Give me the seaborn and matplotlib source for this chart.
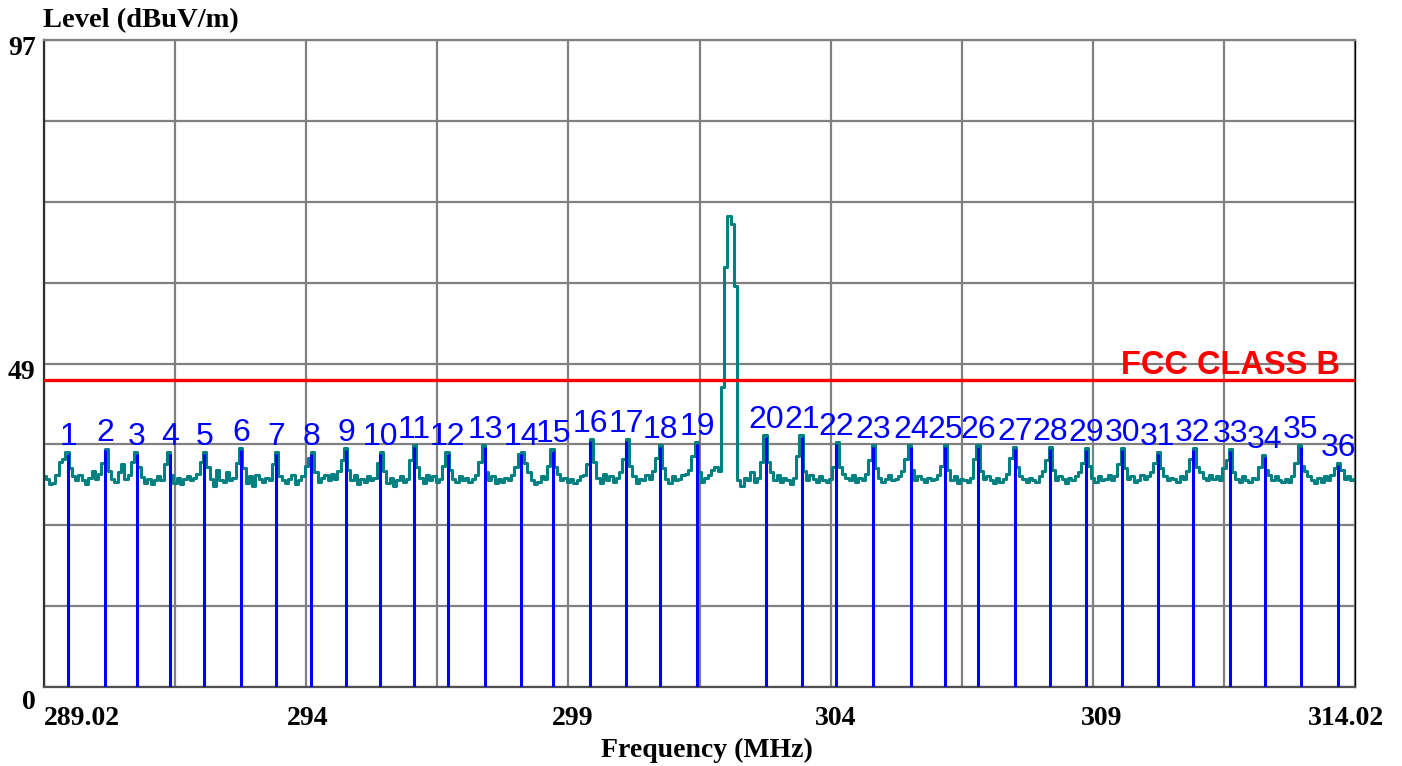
import numpy as np
import pandas as pd
import matplotlib
matplotlib.use("Agg")
import matplotlib.pyplot as plt
import seaborn as sns
from matplotlib import font_manager

# ---------------- data ----------------
F_MIN, F_MAX = 289.02, 314.02
Y_MAX = 97
limit_level = 46.0
limit_label = "FCC CLASS B"

x_tick_labels = ["289.02", "294", "299", "304", "309", "314.02"]
y_tick_labels = ["0", "49", "97"]
y_tick_values = [0, 48.5, 97]

marker_ids = list(range(1, 37))
marker_freqs = [289.48, 290.18, 290.79, 291.42, 292.08, 292.78, 293.44, 294.12, 294.78, 295.43,
                296.08, 296.72, 297.43, 298.12, 298.73, 299.43, 300.12, 300.77, 301.47, 302.79,
                303.47, 304.12, 304.83, 305.55, 306.20, 306.83, 307.54, 308.20, 308.89, 309.58,
                310.26, 310.93, 311.64, 312.30, 312.99, 313.70]
marker_levels = [34.9, 35.5, 34.9, 34.9, 34.9, 35.5, 34.9, 34.9, 35.5, 34.9,
                 36.0, 34.9, 36.0, 34.9, 35.4, 36.9, 36.9, 36.0, 36.5, 37.5,
                 37.5, 36.5, 36.0, 36.0, 36.0, 36.0, 35.7, 35.7, 35.5, 35.5,
                 34.9, 35.5, 35.4, 34.5, 36.0, 33.3]

# measured spectrum (dBuV/m), evenly spaced from 289.02 to 314.02 MHz
trace_levels = [
    31.6, 31.2, 30.4, 30.6, 31.8, 33.8, 34.2,
    35.3, 32.8, 31.6, 31.0, 31.8, 31.0, 30.5, 31.4, 32.4, 31.2, 32.0, 33.6,
    35.7, 32.4, 31.2, 30.7, 32.2, 33.4, 31.2, 31.8, 33.8,
    35.3, 33.0, 31.5, 30.6, 31.2, 30.4, 31.0, 31.6, 31.1, 33.4,
    35.3, 31.8, 30.6, 31.3, 30.5, 31.2, 31.6, 31.0, 31.4, 32.0, 33.8,
    35.3, 33.0, 31.2, 30.2, 32.6, 31.0, 30.8, 32.2, 31.0, 31.4, 33.6,
    35.9, 32.8, 30.6, 31.6, 30.2, 31.8, 31.2, 30.8, 31.4, 31.0, 33.4,
    35.3, 31.6, 31.0, 30.6, 31.2, 31.8, 30.4, 31.0, 31.6, 33.2, 34.4,
    35.3, 32.2, 30.8, 31.4, 31.8, 31.0, 32.0, 31.2, 32.4, 34.0,
    35.9, 32.6, 31.0, 31.8, 30.4, 31.2, 30.8, 31.6, 31.0, 31.4, 33.6,
    35.3, 32.4, 30.6, 31.4, 30.2, 31.0, 31.6, 30.8, 31.2, 34.0,
    36.3, 33.0, 31.4, 30.6, 31.8, 31.0, 31.6, 30.8, 31.2, 33.2,
    35.3, 32.6, 31.2, 30.8, 31.6, 31.0, 31.4, 30.8, 31.2, 31.8, 33.8,
    36.3, 32.2, 31.0, 31.6, 30.6, 31.2, 30.8, 31.4, 31.0, 31.8, 33.0, 35.0,
    35.3, 33.6, 32.2, 31.0, 30.4, 30.8, 31.6, 31.2, 33.2,
    35.7, 33.0, 32.0, 31.0, 31.4, 30.8, 31.2, 30.6, 31.0, 31.6, 31.8, 33.4,
    37.2, 33.8, 31.4, 30.6, 32.0, 31.0, 31.6, 30.8, 31.4, 32.2, 34.2,
    37.2, 33.2, 31.6, 30.6, 31.2, 31.0, 31.8, 31.2, 32.4, 34.4,
    36.3, 32.8, 31.2, 30.6, 31.6, 31.0, 31.2, 31.8, 32.0, 32.6, 34.6,
    36.8, 32.2, 30.8, 31.4, 31.8, 32.6, 33.0, 32.4,
    45.0, 63.0, 70.6, 69.4, 60.1,
    31.0, 30.2, 31.4, 31.0, 32.2, 30.8, 31.4, 33.8,
    37.8, 33.8, 32.2, 31.0, 31.8, 30.8, 31.4, 31.0, 30.4, 31.4, 34.6,
    37.8, 32.4, 31.0, 31.8, 31.2, 30.8, 31.6, 31.0, 30.8, 31.2, 33.0,
    36.8, 33.0, 32.0, 31.4, 31.0, 31.8, 30.8, 31.4, 31.0, 32.0, 34.0,
    36.3, 32.8, 31.4, 30.8, 31.2, 31.8, 31.0, 31.2, 31.6, 32.4, 34.2,
    36.3, 32.6, 31.0, 31.6, 31.2, 30.8, 31.4, 31.0, 31.2, 31.8, 33.2,
    36.3, 32.6, 31.0, 31.6, 30.6, 31.2, 31.0, 30.8, 31.4, 34.2,
    36.3, 32.4, 31.2, 31.6, 31.0, 30.6, 31.4, 30.8, 31.2, 32.0, 34.4,
    36.0, 33.0, 31.6, 31.2, 30.8, 31.4, 31.0, 30.8, 31.6, 32.4, 34.0,
    36.0, 32.6, 31.0, 31.6, 31.2, 30.6, 31.4, 31.0, 31.6, 32.2, 33.6,
    35.8, 33.2, 31.4, 30.8, 31.6, 31.0, 31.2, 31.8, 31.0, 31.6, 33.4,
    35.8, 32.8, 31.2, 31.6, 30.8, 31.0, 31.8, 31.2, 31.6, 32.2, 33.6,
    35.3, 32.8, 31.6, 31.0, 31.4, 31.2, 30.8, 31.6, 31.2, 32.4, 34.2,
    35.8, 33.0, 32.2, 31.4, 31.0, 31.8, 31.2, 31.6, 31.0, 32.8, 34.0,
    35.7, 32.2, 31.2, 30.8, 31.6, 31.0, 30.8, 31.4, 31.2, 33.0,
    34.8, 32.6, 31.8, 31.0, 31.6, 31.0, 30.8, 31.2, 30.8, 31.6, 33.6,
    36.3, 33.2, 32.4, 31.6, 31.0, 30.6, 31.4, 30.8, 31.6, 31.0, 31.8, 32.8,
    33.6, 32.6, 31.2, 31.6, 31.0, 31.2,
]
trace_freqs = np.linspace(F_MIN, F_MAX, len(trace_levels))

# ---------------- style ----------------
sns.set_theme(style="white")
available = {f.name for f in font_manager.fontManager.ttflist}
narrow = "Liberation Sans Narrow" in available
SERIF = ["Liberation Serif", "DejaVu Serif"]
SANS = ["Liberation Sans", "DejaVu Sans"]

W, H = 1402, 766
fig = plt.figure(figsize=(W / 100, H / 100), dpi=100)
L, R, T, B = 44, 1355, 40, 687
ax = fig.add_axes([L / W, 1 - B / H, (R - L) / W, (B - T) / H])
ax.set_facecolor("white")

# grid
grid_x = F_MIN + 2.5 * np.arange(11)
grid_y = Y_MAX / 8 * np.arange(9)
ax.set_xticks(grid_x)
ax.set_yticks(grid_y)
ax.grid(True, color="#808080", linewidth=1.6)
ax.set_axisbelow(True)
ax.tick_params(length=0, labelbottom=False, labelleft=False)

# spectrum trace
df = pd.DataFrame({"freq": trace_freqs, "level": trace_levels})
sns.lineplot(data=df, x="freq", y="level", ax=ax, color="#008080", linewidth=2.2,
             drawstyle="steps-mid", estimator=None, sort=False, zorder=2)

# markers
ax.vlines(marker_freqs, 0, marker_levels, colors="#0000FF", linewidth=2.2, zorder=3)
for mid, f, lv in zip(marker_ids, marker_freqs, marker_levels):
    ax.annotate(str(mid), (f, lv), xytext=(0, 6.5), textcoords="offset points",
                ha="center", va="baseline", color="#0000FF", fontsize=23,
                family=SANS, zorder=5)

# limit line
ax.axhline(limit_level, color="#FF0000", linewidth=2.4, zorder=4)
if narrow:
    ax.annotate(limit_label, xy=(1, limit_level), xycoords=("axes fraction", "data"),
                xytext=(-10.8, 4.3), textcoords="offset points", ha="right", va="baseline",
                color="#FF0000", fontsize=25, fontweight="bold",
                family=["Liberation Sans Narrow", "Liberation Sans"], zorder=5)
else:
    ax.annotate(limit_label, xy=(1, limit_level), xycoords=("axes fraction", "data"),
                xytext=(-10.8, 4.3), textcoords="offset points", ha="right", va="baseline",
                color="#FF0000", fontsize=23.5, fontweight="bold", family=SANS, zorder=5)

ax.set_xlim(F_MIN, F_MAX)
ax.set_ylim(0, Y_MAX)
ax.set_xlabel("")
ax.set_ylabel("")

# spines
for side, col, lw in [("left", "#303030", 1.6), ("bottom", "#505050", 1.6),
                      ("top", "#808080", 1.6), ("right", "#000000", 1.0)]:
    ax.spines[side].set_visible(True)
    ax.spines[side].set_color(col)
    ax.spines[side].set_linewidth(lw)

# x tick labels (every other grid line)
x_label_pos = [F_MIN + 5 * k for k in range(len(x_tick_labels))]
x_offsets = [0, 1, 4, 5, 9, -9]
for pos, lab, off in zip(x_label_pos, x_tick_labels, x_offsets):
    ha = "left" if lab == x_tick_labels[0] else "center"
    ax.annotate(lab, xy=(pos, 0), xycoords=("data", "axes fraction"),
                xytext=(off * 0.72, -14.0), textcoords="offset points",
                ha=ha, va="top", fontsize=20, fontweight="bold", family=SERIF,
                color="black", annotation_clip=False)

# y tick labels
y_offsets = [-2.2, 2.6, 2.6]
for val, lab, off in zip(y_tick_values, y_tick_labels, y_offsets):
    ax.annotate(lab, xy=(0, val), xycoords=("axes fraction", "data"),
                xytext=(-6.0, off), textcoords="offset points",
                ha="right", va="top", fontsize=20, fontweight="bold", family=SERIF,
                color="black", annotation_clip=False)

# axis titles
fig.text(43 / W, 1 - 27 / H, "Level (dBuV/m)", ha="left", va="baseline",
         fontsize=20.5, fontweight="bold", family=SERIF, color="black")
fig.text(707 / W, 1 - 757 / H, "Frequency (MHz)", ha="center", va="baseline",
         fontsize=20, fontweight="bold", family=SERIF, color="black")

fig.savefig("out.png", dpi=100, facecolor="white")
